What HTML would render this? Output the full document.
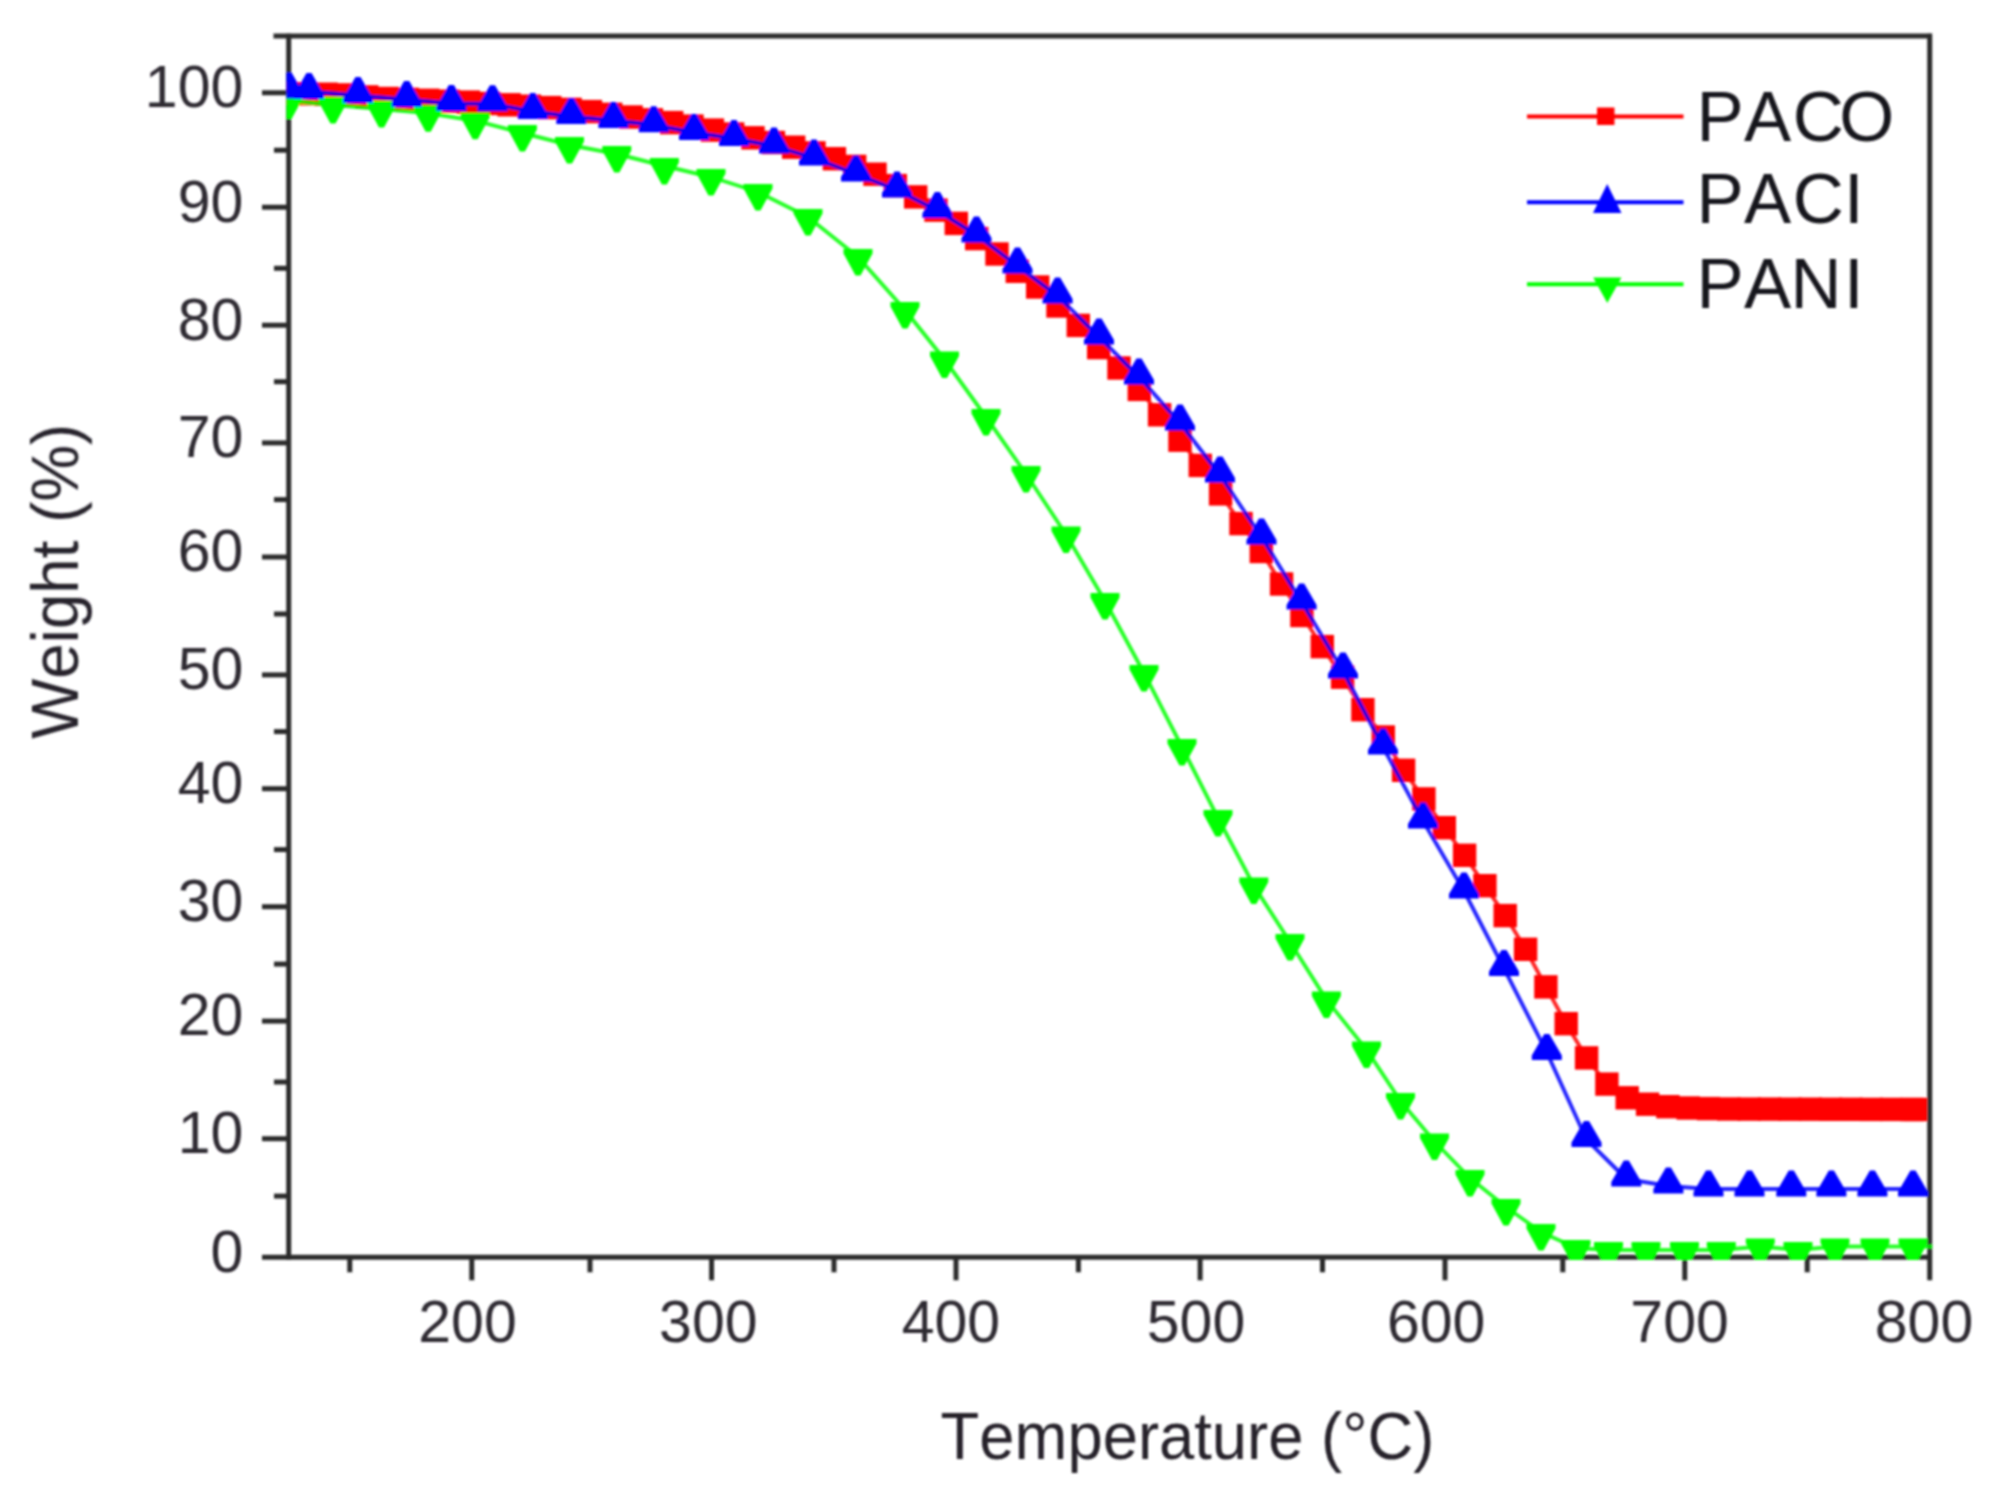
<!DOCTYPE html>
<html><head><meta charset="utf-8"><title>TGA curves</title>
<style>
html,body{margin:0;padding:0;background:#fff;}
body{width:1997px;height:1505px;overflow:hidden;}
svg{display:block;}
text{font-family:"Liberation Sans",Arial,Helvetica,sans-serif;font-kerning:none;}
.tick{font-size:59px;fill:#2e2a33;}
.leg{font-size:70.7px;fill:#15131c;}
.ttl{fill:#25222b;}
</style></head><body>
<svg width="1997" height="1505" viewBox="0 0 1997 1505">
<rect x="0" y="0" width="1997" height="1505" fill="#ffffff"/>
<defs><clipPath id="plot"><rect x="286.4" y="33.6" width="1645.8" height="1226.4"/></clipPath>
<filter id="soft" x="-2%" y="-2%" width="104%" height="104%"><feGaussianBlur stdDeviation="0.8"/></filter></defs>
<g filter="url(#soft)">

<g stroke="#2b2b2b" stroke-width="5.0" fill="none" stroke-linecap="butt">
<line x1="273.5" y1="36" x2="1932" y2="36"/>
<line x1="288.7" y1="33.7" x2="288.7" y2="1259.6"/>
<line x1="262" y1="1257.3" x2="1932" y2="1257.3"/>
<line x1="1929.7" y1="33.7" x2="1929.7" y2="1280.3"/>
<line x1="262" y1="1138.7" x2="288.7" y2="1138.7"/>
<line x1="262" y1="1021.1" x2="288.7" y2="1021.1"/>
<line x1="262" y1="906.7" x2="288.7" y2="906.7"/>
<line x1="262" y1="788.7" x2="288.7" y2="788.7"/>
<line x1="262" y1="674.9" x2="288.7" y2="674.9"/>
<line x1="262" y1="557.0" x2="288.7" y2="557.0"/>
<line x1="262" y1="442.9" x2="288.7" y2="442.9"/>
<line x1="262" y1="325.2" x2="288.7" y2="325.2"/>
<line x1="262" y1="207.2" x2="288.7" y2="207.2"/>
<line x1="262" y1="92.8" x2="288.7" y2="92.8"/>
<line x1="274" y1="1196.1" x2="288.7" y2="1196.1"/>
<line x1="274" y1="1082.0" x2="288.7" y2="1082.0"/>
<line x1="274" y1="964.1" x2="288.7" y2="964.1"/>
<line x1="274" y1="849.6" x2="288.7" y2="849.6"/>
<line x1="274" y1="731.6" x2="288.7" y2="731.6"/>
<line x1="274" y1="614.0" x2="288.7" y2="614.0"/>
<line x1="274" y1="499.6" x2="288.7" y2="499.6"/>
<line x1="274" y1="381.7" x2="288.7" y2="381.7"/>
<line x1="274" y1="268.3" x2="288.7" y2="268.3"/>
<line x1="274" y1="150.2" x2="288.7" y2="150.2"/>
<line x1="471.8" y1="1257.3" x2="471.8" y2="1280.3"/>
<line x1="711.6" y1="1257.3" x2="711.6" y2="1280.3"/>
<line x1="956.0" y1="1257.3" x2="956.0" y2="1280.3"/>
<line x1="1200.1" y1="1257.3" x2="1200.1" y2="1280.3"/>
<line x1="1445.0" y1="1257.3" x2="1445.0" y2="1280.3"/>
<line x1="1684.8" y1="1257.3" x2="1684.8" y2="1280.3"/>
<line x1="349.8" y1="1257.3" x2="349.8" y2="1272.3"/>
<line x1="590.0" y1="1257.3" x2="590.0" y2="1272.3"/>
<line x1="834.0" y1="1257.3" x2="834.0" y2="1272.3"/>
<line x1="1078.4" y1="1257.3" x2="1078.4" y2="1272.3"/>
<line x1="1322.5" y1="1257.3" x2="1322.5" y2="1272.3"/>
<line x1="1562.8" y1="1257.3" x2="1562.8" y2="1272.3"/>
<line x1="1807.2" y1="1257.3" x2="1807.2" y2="1272.3"/>
</g>
<g clip-path="url(#plot)">
<polyline points="285.5,93.2 305.8,93.7 326.1,94.2 346.4,94.9 366.8,96.9 387.1,98.5 407.4,99.4 427.8,100.3 448.1,101.2 468.4,102.1 488.8,103.5 509.1,104.8 529.4,106.2 549.7,107.6 570.1,109.4 590.4,111.6 610.7,114.3 631.1,117.0 651.4,119.8 671.7,122.6 692.0,126.1 712.4,130.1 732.7,134.0 753.0,137.8 773.4,142.5 793.7,147.2 814.0,152.9 834.4,158.7 854.7,166.4 875.0,174.2 895.4,185.6 915.7,196.9 936.0,210.1 956.3,223.4 976.7,238.6 997.0,254.0 1017.3,271.3 1037.7,287.0 1058.0,306.0 1078.3,325.4 1098.7,347.6 1119.0,368.0 1139.3,389.4 1159.6,414.8 1180.0,440.2 1200.3,465.4 1220.6,493.9 1241.0,523.6 1261.3,551.5 1281.6,584.0 1302.0,615.5 1322.3,646.6 1342.6,677.2 1362.9,709.7 1383.3,737.0 1403.6,770.3 1423.9,798.9 1444.3,827.7 1464.6,855.3 1484.9,885.7 1505.2,915.6 1525.6,949.3 1545.9,986.9 1566.2,1023.7 1586.6,1057.9 1606.9,1084.1 1627.2,1097.8 1647.6,1104.2 1667.9,1106.7 1688.2,1108.0 1708.5,1108.6 1728.9,1109.0 1749.2,1109.1 1769.5,1109.1 1789.9,1109.2 1810.2,1109.2 1830.5,1109.3 1850.9,1109.3 1871.2,1109.4 1891.5,1109.4 1911.8,1109.5 1915.3,1109.5" fill="none" stroke="#ff0000" stroke-width="3.9" stroke-opacity="0.85" stroke-linejoin="round"/>
<rect x="273.8" y="81.5" width="23.4" height="23.4" fill="#ff0000"/>
<rect x="294.1" y="82.0" width="23.4" height="23.4" fill="#ff0000"/>
<rect x="314.4" y="82.5" width="23.4" height="23.4" fill="#ff0000"/>
<rect x="334.7" y="83.2" width="23.4" height="23.4" fill="#ff0000"/>
<rect x="355.1" y="85.2" width="23.4" height="23.4" fill="#ff0000"/>
<rect x="375.4" y="86.8" width="23.4" height="23.4" fill="#ff0000"/>
<rect x="395.7" y="87.7" width="23.4" height="23.4" fill="#ff0000"/>
<rect x="416.1" y="88.6" width="23.4" height="23.4" fill="#ff0000"/>
<rect x="436.4" y="89.5" width="23.4" height="23.4" fill="#ff0000"/>
<rect x="456.7" y="90.4" width="23.4" height="23.4" fill="#ff0000"/>
<rect x="477.1" y="91.8" width="23.4" height="23.4" fill="#ff0000"/>
<rect x="497.4" y="93.1" width="23.4" height="23.4" fill="#ff0000"/>
<rect x="517.7" y="94.5" width="23.4" height="23.4" fill="#ff0000"/>
<rect x="538.0" y="95.9" width="23.4" height="23.4" fill="#ff0000"/>
<rect x="558.4" y="97.7" width="23.4" height="23.4" fill="#ff0000"/>
<rect x="578.7" y="99.9" width="23.4" height="23.4" fill="#ff0000"/>
<rect x="599.0" y="102.6" width="23.4" height="23.4" fill="#ff0000"/>
<rect x="619.4" y="105.3" width="23.4" height="23.4" fill="#ff0000"/>
<rect x="639.7" y="108.1" width="23.4" height="23.4" fill="#ff0000"/>
<rect x="660.0" y="110.9" width="23.4" height="23.4" fill="#ff0000"/>
<rect x="680.3" y="114.4" width="23.4" height="23.4" fill="#ff0000"/>
<rect x="700.7" y="118.4" width="23.4" height="23.4" fill="#ff0000"/>
<rect x="721.0" y="122.3" width="23.4" height="23.4" fill="#ff0000"/>
<rect x="741.3" y="126.1" width="23.4" height="23.4" fill="#ff0000"/>
<rect x="761.7" y="130.8" width="23.4" height="23.4" fill="#ff0000"/>
<rect x="782.0" y="135.5" width="23.4" height="23.4" fill="#ff0000"/>
<rect x="802.3" y="141.2" width="23.4" height="23.4" fill="#ff0000"/>
<rect x="822.7" y="147.0" width="23.4" height="23.4" fill="#ff0000"/>
<rect x="843.0" y="154.7" width="23.4" height="23.4" fill="#ff0000"/>
<rect x="863.3" y="162.5" width="23.4" height="23.4" fill="#ff0000"/>
<rect x="883.6" y="173.9" width="23.4" height="23.4" fill="#ff0000"/>
<rect x="904.0" y="185.2" width="23.4" height="23.4" fill="#ff0000"/>
<rect x="924.3" y="198.4" width="23.4" height="23.4" fill="#ff0000"/>
<rect x="944.6" y="211.7" width="23.4" height="23.4" fill="#ff0000"/>
<rect x="965.0" y="226.9" width="23.4" height="23.4" fill="#ff0000"/>
<rect x="985.3" y="242.3" width="23.4" height="23.4" fill="#ff0000"/>
<rect x="1005.6" y="259.6" width="23.4" height="23.4" fill="#ff0000"/>
<rect x="1026.0" y="275.3" width="23.4" height="23.4" fill="#ff0000"/>
<rect x="1046.3" y="294.3" width="23.4" height="23.4" fill="#ff0000"/>
<rect x="1066.6" y="313.7" width="23.4" height="23.4" fill="#ff0000"/>
<rect x="1087.0" y="335.9" width="23.4" height="23.4" fill="#ff0000"/>
<rect x="1107.3" y="356.3" width="23.4" height="23.4" fill="#ff0000"/>
<rect x="1127.6" y="377.7" width="23.4" height="23.4" fill="#ff0000"/>
<rect x="1147.9" y="403.1" width="23.4" height="23.4" fill="#ff0000"/>
<rect x="1168.3" y="428.5" width="23.4" height="23.4" fill="#ff0000"/>
<rect x="1188.6" y="453.7" width="23.4" height="23.4" fill="#ff0000"/>
<rect x="1208.9" y="482.2" width="23.4" height="23.4" fill="#ff0000"/>
<rect x="1229.3" y="511.9" width="23.4" height="23.4" fill="#ff0000"/>
<rect x="1249.6" y="539.8" width="23.4" height="23.4" fill="#ff0000"/>
<rect x="1269.9" y="572.3" width="23.4" height="23.4" fill="#ff0000"/>
<rect x="1290.2" y="603.8" width="23.4" height="23.4" fill="#ff0000"/>
<rect x="1310.6" y="634.9" width="23.4" height="23.4" fill="#ff0000"/>
<rect x="1330.9" y="665.5" width="23.4" height="23.4" fill="#ff0000"/>
<rect x="1351.2" y="698.0" width="23.4" height="23.4" fill="#ff0000"/>
<rect x="1371.6" y="725.3" width="23.4" height="23.4" fill="#ff0000"/>
<rect x="1391.9" y="758.6" width="23.4" height="23.4" fill="#ff0000"/>
<rect x="1412.2" y="787.2" width="23.4" height="23.4" fill="#ff0000"/>
<rect x="1432.6" y="816.0" width="23.4" height="23.4" fill="#ff0000"/>
<rect x="1452.9" y="843.6" width="23.4" height="23.4" fill="#ff0000"/>
<rect x="1473.2" y="874.0" width="23.4" height="23.4" fill="#ff0000"/>
<rect x="1493.5" y="903.9" width="23.4" height="23.4" fill="#ff0000"/>
<rect x="1513.9" y="937.6" width="23.4" height="23.4" fill="#ff0000"/>
<rect x="1534.2" y="975.2" width="23.4" height="23.4" fill="#ff0000"/>
<rect x="1554.5" y="1012.0" width="23.4" height="23.4" fill="#ff0000"/>
<rect x="1574.9" y="1046.2" width="23.4" height="23.4" fill="#ff0000"/>
<rect x="1595.2" y="1072.4" width="23.4" height="23.4" fill="#ff0000"/>
<rect x="1615.5" y="1086.1" width="23.4" height="23.4" fill="#ff0000"/>
<rect x="1635.9" y="1092.5" width="23.4" height="23.4" fill="#ff0000"/>
<rect x="1656.2" y="1095.0" width="23.4" height="23.4" fill="#ff0000"/>
<rect x="1676.5" y="1096.3" width="23.4" height="23.4" fill="#ff0000"/>
<rect x="1696.8" y="1096.9" width="23.4" height="23.4" fill="#ff0000"/>
<rect x="1717.2" y="1097.3" width="23.4" height="23.4" fill="#ff0000"/>
<rect x="1737.5" y="1097.4" width="23.4" height="23.4" fill="#ff0000"/>
<rect x="1757.8" y="1097.4" width="23.4" height="23.4" fill="#ff0000"/>
<rect x="1778.2" y="1097.5" width="23.4" height="23.4" fill="#ff0000"/>
<rect x="1798.5" y="1097.5" width="23.4" height="23.4" fill="#ff0000"/>
<rect x="1818.8" y="1097.6" width="23.4" height="23.4" fill="#ff0000"/>
<rect x="1839.2" y="1097.6" width="23.4" height="23.4" fill="#ff0000"/>
<rect x="1859.5" y="1097.7" width="23.4" height="23.4" fill="#ff0000"/>
<rect x="1879.8" y="1097.7" width="23.4" height="23.4" fill="#ff0000"/>
<rect x="1900.1" y="1097.8" width="23.4" height="23.4" fill="#ff0000"/>
<rect x="1903.6" y="1097.8" width="23.4" height="23.4" fill="#ff0000"/>
<polyline points="289.0,100.5 333.0,105.0 381.5,109.0 428.2,113.3 475.2,120.7 522.4,133.0 569.5,145.0 616.8,154.0 664.4,166.0 711.0,177.0 758.0,192.0 808.0,217.0 858.0,257.0 905.0,310.0 944.5,359.5 986.0,417.0 1026.0,474.0 1066.0,534.5 1105.0,601.0 1144.0,673.0 1182.0,747.0 1218.0,818.0 1253.8,885.6 1290.0,942.0 1326.4,999.6 1366.5,1049.6 1400.5,1101.0 1434.5,1141.5 1470.0,1178.0 1506.0,1207.0 1541.0,1232.0 1576.0,1248.0 1608.5,1250.0 1646.0,1250.0 1684.5,1250.0 1721.3,1250.0 1760.3,1246.5 1798.0,1250.0 1835.0,1246.5 1875.0,1246.5 1913.0,1246.5 1951.0,1246.5" fill="none" stroke="#00ff00" stroke-width="3.9" stroke-opacity="0.85" stroke-linejoin="round"/>
<polygon points="274.5,92.5 303.5,92.5 303.5,97.0 291.5,119.0 286.5,119.0 274.5,97.0" fill="#00ff00"/>
<polygon points="318.5,97.0 347.5,97.0 347.5,101.5 335.5,123.5 330.5,123.5 318.5,101.5" fill="#00ff00"/>
<polygon points="367.0,101.0 396.0,101.0 396.0,105.5 384.0,127.5 379.0,127.5 367.0,105.5" fill="#00ff00"/>
<polygon points="413.7,105.3 442.7,105.3 442.7,109.8 430.7,131.8 425.7,131.8 413.7,109.8" fill="#00ff00"/>
<polygon points="460.7,112.7 489.7,112.7 489.7,117.2 477.7,139.2 472.7,139.2 460.7,117.2" fill="#00ff00"/>
<polygon points="507.9,125.0 536.9,125.0 536.9,129.5 524.9,151.5 519.9,151.5 507.9,129.5" fill="#00ff00"/>
<polygon points="555.0,137.0 584.0,137.0 584.0,141.5 572.0,163.5 567.0,163.5 555.0,141.5" fill="#00ff00"/>
<polygon points="602.3,146.0 631.3,146.0 631.3,150.5 619.3,172.5 614.3,172.5 602.3,150.5" fill="#00ff00"/>
<polygon points="649.9,158.0 678.9,158.0 678.9,162.5 666.9,184.5 661.9,184.5 649.9,162.5" fill="#00ff00"/>
<polygon points="696.5,169.0 725.5,169.0 725.5,173.5 713.5,195.5 708.5,195.5 696.5,173.5" fill="#00ff00"/>
<polygon points="743.5,184.0 772.5,184.0 772.5,188.5 760.5,210.5 755.5,210.5 743.5,188.5" fill="#00ff00"/>
<polygon points="793.5,209.0 822.5,209.0 822.5,213.5 810.5,235.5 805.5,235.5 793.5,213.5" fill="#00ff00"/>
<polygon points="843.5,249.0 872.5,249.0 872.5,253.5 860.5,275.5 855.5,275.5 843.5,253.5" fill="#00ff00"/>
<polygon points="890.5,302.0 919.5,302.0 919.5,306.5 907.5,328.5 902.5,328.5 890.5,306.5" fill="#00ff00"/>
<polygon points="930.0,351.5 959.0,351.5 959.0,356.0 947.0,378.0 942.0,378.0 930.0,356.0" fill="#00ff00"/>
<polygon points="971.5,409.0 1000.5,409.0 1000.5,413.5 988.5,435.5 983.5,435.5 971.5,413.5" fill="#00ff00"/>
<polygon points="1011.5,466.0 1040.5,466.0 1040.5,470.5 1028.5,492.5 1023.5,492.5 1011.5,470.5" fill="#00ff00"/>
<polygon points="1051.5,526.5 1080.5,526.5 1080.5,531.0 1068.5,553.0 1063.5,553.0 1051.5,531.0" fill="#00ff00"/>
<polygon points="1090.5,593.0 1119.5,593.0 1119.5,597.5 1107.5,619.5 1102.5,619.5 1090.5,597.5" fill="#00ff00"/>
<polygon points="1129.5,665.0 1158.5,665.0 1158.5,669.5 1146.5,691.5 1141.5,691.5 1129.5,669.5" fill="#00ff00"/>
<polygon points="1167.5,739.0 1196.5,739.0 1196.5,743.5 1184.5,765.5 1179.5,765.5 1167.5,743.5" fill="#00ff00"/>
<polygon points="1203.5,810.0 1232.5,810.0 1232.5,814.5 1220.5,836.5 1215.5,836.5 1203.5,814.5" fill="#00ff00"/>
<polygon points="1239.3,877.6 1268.3,877.6 1268.3,882.1 1256.3,904.1 1251.3,904.1 1239.3,882.1" fill="#00ff00"/>
<polygon points="1275.5,934.0 1304.5,934.0 1304.5,938.5 1292.5,960.5 1287.5,960.5 1275.5,938.5" fill="#00ff00"/>
<polygon points="1311.9,991.6 1340.9,991.6 1340.9,996.1 1328.9,1018.1 1323.9,1018.1 1311.9,996.1" fill="#00ff00"/>
<polygon points="1352.0,1041.6 1381.0,1041.6 1381.0,1046.1 1369.0,1068.1 1364.0,1068.1 1352.0,1046.1" fill="#00ff00"/>
<polygon points="1386.0,1093.0 1415.0,1093.0 1415.0,1097.5 1403.0,1119.5 1398.0,1119.5 1386.0,1097.5" fill="#00ff00"/>
<polygon points="1420.0,1133.5 1449.0,1133.5 1449.0,1138.0 1437.0,1160.0 1432.0,1160.0 1420.0,1138.0" fill="#00ff00"/>
<polygon points="1455.5,1170.0 1484.5,1170.0 1484.5,1174.5 1472.5,1196.5 1467.5,1196.5 1455.5,1174.5" fill="#00ff00"/>
<polygon points="1491.5,1199.0 1520.5,1199.0 1520.5,1203.5 1508.5,1225.5 1503.5,1225.5 1491.5,1203.5" fill="#00ff00"/>
<polygon points="1526.5,1224.0 1555.5,1224.0 1555.5,1228.5 1543.5,1250.5 1538.5,1250.5 1526.5,1228.5" fill="#00ff00"/>
<polygon points="1561.5,1240.0 1590.5,1240.0 1590.5,1244.5 1578.5,1266.5 1573.5,1266.5 1561.5,1244.5" fill="#00ff00"/>
<polygon points="1594.0,1242.0 1623.0,1242.0 1623.0,1246.5 1611.0,1268.5 1606.0,1268.5 1594.0,1246.5" fill="#00ff00"/>
<polygon points="1631.5,1242.0 1660.5,1242.0 1660.5,1246.5 1648.5,1268.5 1643.5,1268.5 1631.5,1246.5" fill="#00ff00"/>
<polygon points="1670.0,1242.0 1699.0,1242.0 1699.0,1246.5 1687.0,1268.5 1682.0,1268.5 1670.0,1246.5" fill="#00ff00"/>
<polygon points="1706.8,1242.0 1735.8,1242.0 1735.8,1246.5 1723.8,1268.5 1718.8,1268.5 1706.8,1246.5" fill="#00ff00"/>
<polygon points="1745.8,1238.5 1774.8,1238.5 1774.8,1243.0 1762.8,1265.0 1757.8,1265.0 1745.8,1243.0" fill="#00ff00"/>
<polygon points="1783.5,1242.0 1812.5,1242.0 1812.5,1246.5 1800.5,1268.5 1795.5,1268.5 1783.5,1246.5" fill="#00ff00"/>
<polygon points="1820.5,1238.5 1849.5,1238.5 1849.5,1243.0 1837.5,1265.0 1832.5,1265.0 1820.5,1243.0" fill="#00ff00"/>
<polygon points="1860.5,1238.5 1889.5,1238.5 1889.5,1243.0 1877.5,1265.0 1872.5,1265.0 1860.5,1243.0" fill="#00ff00"/>
<polygon points="1898.5,1238.5 1927.5,1238.5 1927.5,1243.0 1915.5,1265.0 1910.5,1265.0 1898.5,1243.0" fill="#00ff00"/>
<polygon points="1936.5,1238.5 1965.5,1238.5 1965.5,1243.0 1953.5,1265.0 1948.5,1265.0 1936.5,1243.0" fill="#00ff00"/>
<polyline points="289.0,91.0 309.0,91.5 358.0,95.5 406.7,99.5 451.4,103.5 492.5,103.8 532.8,111.5 571.3,116.5 613.4,120.5 653.7,124.8 694.0,132.5 734.0,138.5 774.0,146.0 814.0,158.0 856.0,174.0 897.0,190.0 937.4,210.5 976.5,235.0 1017.5,266.0 1057.6,296.0 1099.0,337.0 1139.0,377.0 1180.0,423.0 1220.0,475.0 1261.5,537.0 1301.6,602.0 1343.0,671.0 1383.0,747.0 1423.0,821.0 1464.0,891.0 1504.0,968.5 1546.8,1052.4 1586.5,1139.5 1626.3,1179.0 1668.4,1186.0 1708.5,1189.0 1749.5,1189.0 1791.3,1189.0 1831.4,1189.0 1872.4,1189.0 1913.0,1189.0" fill="none" stroke="#0000ff" stroke-width="3.9" stroke-opacity="0.85" stroke-linejoin="round"/>
<polygon points="274.0,98.5 304.0,98.5 304.0,94.0 291.5,72.5 286.5,72.5 274.0,94.0" fill="#0000ff"/>
<polygon points="294.0,99.0 324.0,99.0 324.0,94.5 311.5,73.0 306.5,73.0 294.0,94.5" fill="#0000ff"/>
<polygon points="343.0,103.0 373.0,103.0 373.0,98.5 360.5,77.0 355.5,77.0 343.0,98.5" fill="#0000ff"/>
<polygon points="391.7,107.0 421.7,107.0 421.7,102.5 409.2,81.0 404.2,81.0 391.7,102.5" fill="#0000ff"/>
<polygon points="436.4,111.0 466.4,111.0 466.4,106.5 453.9,85.0 448.9,85.0 436.4,106.5" fill="#0000ff"/>
<polygon points="477.5,111.3 507.5,111.3 507.5,106.8 495.0,85.3 490.0,85.3 477.5,106.8" fill="#0000ff"/>
<polygon points="517.8,119.0 547.8,119.0 547.8,114.5 535.3,93.0 530.3,93.0 517.8,114.5" fill="#0000ff"/>
<polygon points="556.3,124.0 586.3,124.0 586.3,119.5 573.8,98.0 568.8,98.0 556.3,119.5" fill="#0000ff"/>
<polygon points="598.4,128.0 628.4,128.0 628.4,123.5 615.9,102.0 610.9,102.0 598.4,123.5" fill="#0000ff"/>
<polygon points="638.7,132.3 668.7,132.3 668.7,127.8 656.2,106.3 651.2,106.3 638.7,127.8" fill="#0000ff"/>
<polygon points="679.0,140.0 709.0,140.0 709.0,135.5 696.5,114.0 691.5,114.0 679.0,135.5" fill="#0000ff"/>
<polygon points="719.0,146.0 749.0,146.0 749.0,141.5 736.5,120.0 731.5,120.0 719.0,141.5" fill="#0000ff"/>
<polygon points="759.0,153.5 789.0,153.5 789.0,149.0 776.5,127.5 771.5,127.5 759.0,149.0" fill="#0000ff"/>
<polygon points="799.0,165.5 829.0,165.5 829.0,161.0 816.5,139.5 811.5,139.5 799.0,161.0" fill="#0000ff"/>
<polygon points="841.0,181.5 871.0,181.5 871.0,177.0 858.5,155.5 853.5,155.5 841.0,177.0" fill="#0000ff"/>
<polygon points="882.0,197.5 912.0,197.5 912.0,193.0 899.5,171.5 894.5,171.5 882.0,193.0" fill="#0000ff"/>
<polygon points="922.4,218.0 952.4,218.0 952.4,213.5 939.9,192.0 934.9,192.0 922.4,213.5" fill="#0000ff"/>
<polygon points="961.5,242.5 991.5,242.5 991.5,238.0 979.0,216.5 974.0,216.5 961.5,238.0" fill="#0000ff"/>
<polygon points="1002.5,273.5 1032.5,273.5 1032.5,269.0 1020.0,247.5 1015.0,247.5 1002.5,269.0" fill="#0000ff"/>
<polygon points="1042.6,303.5 1072.6,303.5 1072.6,299.0 1060.1,277.5 1055.1,277.5 1042.6,299.0" fill="#0000ff"/>
<polygon points="1084.0,344.5 1114.0,344.5 1114.0,340.0 1101.5,318.5 1096.5,318.5 1084.0,340.0" fill="#0000ff"/>
<polygon points="1124.0,384.5 1154.0,384.5 1154.0,380.0 1141.5,358.5 1136.5,358.5 1124.0,380.0" fill="#0000ff"/>
<polygon points="1165.0,430.5 1195.0,430.5 1195.0,426.0 1182.5,404.5 1177.5,404.5 1165.0,426.0" fill="#0000ff"/>
<polygon points="1205.0,482.5 1235.0,482.5 1235.0,478.0 1222.5,456.5 1217.5,456.5 1205.0,478.0" fill="#0000ff"/>
<polygon points="1246.5,544.5 1276.5,544.5 1276.5,540.0 1264.0,518.5 1259.0,518.5 1246.5,540.0" fill="#0000ff"/>
<polygon points="1286.6,609.5 1316.6,609.5 1316.6,605.0 1304.1,583.5 1299.1,583.5 1286.6,605.0" fill="#0000ff"/>
<polygon points="1328.0,678.5 1358.0,678.5 1358.0,674.0 1345.5,652.5 1340.5,652.5 1328.0,674.0" fill="#0000ff"/>
<polygon points="1368.0,754.5 1398.0,754.5 1398.0,750.0 1385.5,728.5 1380.5,728.5 1368.0,750.0" fill="#0000ff"/>
<polygon points="1408.0,828.5 1438.0,828.5 1438.0,824.0 1425.5,802.5 1420.5,802.5 1408.0,824.0" fill="#0000ff"/>
<polygon points="1449.0,898.5 1479.0,898.5 1479.0,894.0 1466.5,872.5 1461.5,872.5 1449.0,894.0" fill="#0000ff"/>
<polygon points="1489.0,976.0 1519.0,976.0 1519.0,971.5 1506.5,950.0 1501.5,950.0 1489.0,971.5" fill="#0000ff"/>
<polygon points="1531.8,1059.9 1561.8,1059.9 1561.8,1055.4 1549.3,1033.9 1544.3,1033.9 1531.8,1055.4" fill="#0000ff"/>
<polygon points="1571.5,1147.0 1601.5,1147.0 1601.5,1142.5 1589.0,1121.0 1584.0,1121.0 1571.5,1142.5" fill="#0000ff"/>
<polygon points="1611.3,1186.5 1641.3,1186.5 1641.3,1182.0 1628.8,1160.5 1623.8,1160.5 1611.3,1182.0" fill="#0000ff"/>
<polygon points="1653.4,1193.5 1683.4,1193.5 1683.4,1189.0 1670.9,1167.5 1665.9,1167.5 1653.4,1189.0" fill="#0000ff"/>
<polygon points="1693.5,1196.5 1723.5,1196.5 1723.5,1192.0 1711.0,1170.5 1706.0,1170.5 1693.5,1192.0" fill="#0000ff"/>
<polygon points="1734.5,1196.5 1764.5,1196.5 1764.5,1192.0 1752.0,1170.5 1747.0,1170.5 1734.5,1192.0" fill="#0000ff"/>
<polygon points="1776.3,1196.5 1806.3,1196.5 1806.3,1192.0 1793.8,1170.5 1788.8,1170.5 1776.3,1192.0" fill="#0000ff"/>
<polygon points="1816.4,1196.5 1846.4,1196.5 1846.4,1192.0 1833.9,1170.5 1828.9,1170.5 1816.4,1192.0" fill="#0000ff"/>
<polygon points="1857.4,1196.5 1887.4,1196.5 1887.4,1192.0 1874.9,1170.5 1869.9,1170.5 1857.4,1192.0" fill="#0000ff"/>
<polygon points="1898.0,1196.5 1928.0,1196.5 1928.0,1192.0 1915.5,1170.5 1910.5,1170.5 1898.0,1192.0" fill="#0000ff"/>
</g>
<text class="tick" x="243.3" y="1271.6" text-anchor="end">0</text>
<text class="tick" x="243.3" y="1153.0" text-anchor="end">10</text>
<text class="tick" x="243.3" y="1035.4" text-anchor="end">20</text>
<text class="tick" x="243.3" y="921.0" text-anchor="end">30</text>
<text class="tick" x="243.3" y="803.0" text-anchor="end">40</text>
<text class="tick" x="243.3" y="689.2" text-anchor="end">50</text>
<text class="tick" x="243.3" y="571.3" text-anchor="end">60</text>
<text class="tick" x="243.3" y="457.2" text-anchor="end">70</text>
<text class="tick" x="243.3" y="339.5" text-anchor="end">80</text>
<text class="tick" x="243.3" y="221.5" text-anchor="end">90</text>
<text class="tick" x="243.3" y="107.1" text-anchor="end">100</text>
<text class="tick" x="467.5" y="1342" text-anchor="middle">200</text>
<text class="tick" x="708.3" y="1342" text-anchor="middle">300</text>
<text class="tick" x="950.9" y="1342" text-anchor="middle">400</text>
<text class="tick" x="1196.0" y="1342" text-anchor="middle">500</text>
<text class="tick" x="1436.2" y="1342" text-anchor="middle">600</text>
<text class="tick" x="1679.6" y="1342" text-anchor="middle">700</text>
<text class="tick" x="1924.0" y="1342" text-anchor="middle">800</text>
<text class="ttl" transform="translate(940.6,1458.8) scale(1,1.043)" font-size="63.4">Temperature (°C)</text>
<text class="ttl" transform="translate(78.2,738.8) rotate(-90) scale(1,1.056)" font-size="63.7">Weight (%)</text>
<g stroke-width="4">
<line x1="1527" y1="116.4" x2="1683.5" y2="116.4" stroke="#ff0000"/>
<line x1="1527" y1="202.3" x2="1683.5" y2="202.3" stroke="#0000ff"/>
<line x1="1527" y1="284.2" x2="1683.5" y2="284.2" stroke="#00ff00"/>
</g>
<rect x="1597" y="107.5" width="17.5" height="17.5" fill="#ff0000"/>
<polygon points="1593,213 1621.5,213 1607.2,184" fill="#0000ff"/>
<polygon points="1593.2,277.5 1621.5,277.5 1607.3,303" fill="#00ff00"/>
<text class="leg" x="1696.6 1743.9 1792.7 1839.2" y="141">PACO</text>
<text class="leg" x="1696.6 1743.9 1792.7 1844" y="222.5">PACI</text>
<text class="leg" x="1696.6 1743.9 1790.5 1844" y="307.6">PANI</text>
</g></svg></body></html>
